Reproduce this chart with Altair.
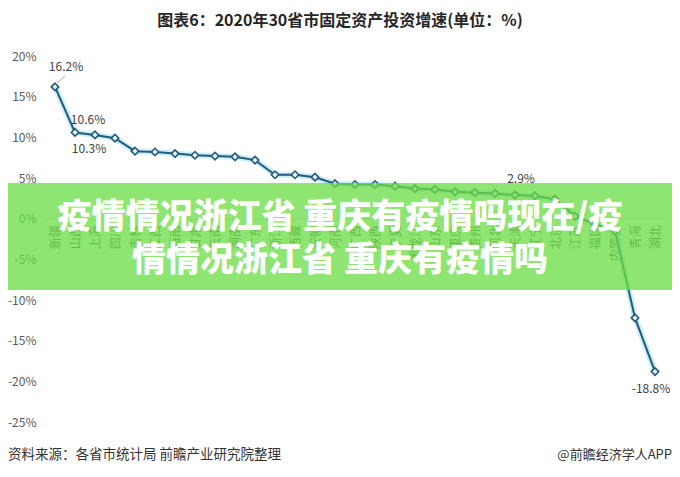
import altair as alt
import pandas as pd

provinces = ["新疆", "山西", "上海", "四川", "吉林", "江西", "海南", "甘肃", "云南", "湖南",
             "广东", "浙江", "西藏", "安徽", "河南", "广西", "陕西", "宁夏", "黑龙江", "山东",
             "重庆", "贵州", "河北", "天津", "辽宁", "北京", "江苏", "福建", "内蒙古", "青海", "湖北"]
values = [16.2, 10.6, 10.3, 9.9, 8.3, 8.2, 8.0, 7.8, 7.7, 7.6,
          7.2, 5.4, 5.4, 5.1, 4.3, 4.2, 4.2, 4.0, 3.7, 3.6,
          3.3, 3.2, 3.1, 2.9, 2.8, 2.4, 0.3, -0.7, -1.5, -12.2, -18.8]
y_ticks = [-25, -20, -15, -10, -5, 0, 5, 10, 15, 20]

title_text = "图表6：2020年30省市固定资产投资增速(单位：%)"
banner_line1 = "疫情情况浙江省 重庆有疫情吗现在/疫"
banner_line2 = "情情况浙江省 重庆有疫情吗"
source_text = "资料来源：各省市统计局 前瞻产业研究院整理"
brand_text = "@前瞻经济学人APP"

FONT = "Noto Sans CJK SC"
W, H = 620, 366
zero_y = H * 20 / 45

df = pd.DataFrame({
    "idx": list(range(len(provinces))),
    "province": provinces,
    "value": values,
    "label": [f"{v}%" for v in values],
})

x_enc = alt.X("province:N", sort=provinces,
              scale=alt.Scale(type="point", padding=0.5),
              axis=alt.Axis(orient="bottom", offset=-(H - zero_y), labelAngle=270,
                            labelOverlap=False, ticks=False, grid=False,
                            domainColor="#d9d9d9", domainWidth=1,
                            labelPadding=6, labelFontSize=12, labelColor="#595959",
                            labelFont=FONT, title=None))
y_enc = alt.Y("value:Q", scale=alt.Scale(domain=[-25, 20], nice=False, zero=False),
              axis=alt.Axis(values=y_ticks, labelExpr="datum.value + '%'",
                            domain=False, ticks=False, grid=False, labelPadding=9,
                            labelFontSize=12, labelColor="#595959", labelFont=FONT,
                            title=None))

base = alt.Chart(df)
glow = base.mark_line(color="#bde8f6", strokeWidth=6, opacity=0.8).encode(x=x_enc, y=y_enc)
line = base.mark_line(color="#255b7c", strokeWidth=2).encode(x=x_enc, y=y_enc)
pts = base.mark_point(shape="diamond", filled=True, fill="#e6f6fc", stroke="#255b7c",
                      strokeWidth=1.6, size=55, opacity=1).encode(x=x_enc, y=y_enc)

label_specs = [(0, 11, -20), (1, 13, -12), (2, -6, 14), (23, 6, -16), (30, -4, 17)]
label_layers = []
for k, dx, dy in label_specs:
    label_layers.append(
        base.transform_filter(alt.datum.idx == k)
        .mark_text(dx=dx, dy=dy, fontSize=12, color="#404040", font=FONT)
        .encode(x=x_enc, y=y_enc, text="label:N")
    )

leader = alt.Chart(pd.DataFrame({"a": [0]})).mark_rule(color="#a6a6a6", strokeWidth=1).encode(
    x=alt.value(12), x2=alt.value(20), y=alt.value(27), y2=alt.value(20))


def text_layer(txt, x, y, **kw):
    return alt.Chart(pd.DataFrame({"t": [txt]})).mark_text(font=FONT, **kw).encode(
        text="t:N", x=alt.value(x), y=alt.value(y))


title = text_layer(title_text, 295, -35, fontSize=16, fontWeight="bold", color="#262626",
                   align="center", baseline="middle")
source = text_layer(source_text, -37, 399, fontSize=13.5, color="#333333",
                    align="left", baseline="middle")
brand = text_layer(brand_text, 627, 399, fontSize=13, color="#333333",
                   align="right", baseline="middle")

banner = alt.Chart(pd.DataFrame({"a": [0]})).mark_rect(color="#6cdd44", opacity=0.76).encode(
    x=alt.value(-37), x2=alt.value(627), y=alt.value(127), y2=alt.value(234))
b1 = text_layer(banner_line1, 295, 162, fontSize=34, fontWeight=900, color="#ffffff",
                align="center", baseline="middle")
b2 = text_layer(banner_line2, 295, 205, fontSize=34, fontWeight=900, color="#ffffff",
                align="center", baseline="middle")

chart = alt.layer(glow, line, pts, *label_layers, leader, title, source, brand,
                  banner, b1, b2).properties(
    width=W, height=H,
    autosize=alt.AutoSizeParams(type="none"),
    padding={"left": 37, "top": 48, "right": 7, "bottom": 45},
    background="#ffffff",
).configure_view(stroke=None)

chart.save("out.html", embed_options={"renderer": "svg", "actions": False})
